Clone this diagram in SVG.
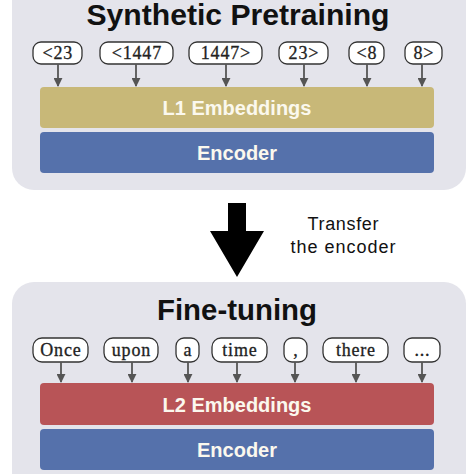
<svg xmlns="http://www.w3.org/2000/svg" width="474" height="474" viewBox="0 0 474 474">
<defs>
<style>
.panel{fill:#e4e4eb;}
.title{font-family:"Liberation Sans",Arial,sans-serif;font-weight:bold;font-size:29px;fill:#111;text-anchor:middle;}
.tok rect{fill:#fff;stroke:#333;stroke-width:1.3;}
.tok text{font-family:"Liberation Serif","Times New Roman",serif;font-size:18px;fill:#222;text-anchor:middle;stroke:#222;stroke-width:0.3;letter-spacing:0.8px;}
.bar text{font-family:"Liberation Sans",Arial,sans-serif;font-weight:bold;font-size:20px;fill:#fbf8ee;text-anchor:middle;}
.conn line{stroke:#555;stroke-width:1.8;marker-end:url(#ah);}
.note{font-family:"Liberation Sans",Arial,sans-serif;font-size:18px;fill:#111;text-anchor:middle;}
</style>
<marker id="ah" viewBox="0 0 10 10" refX="9" refY="5" markerWidth="5" markerHeight="5" orient="auto" markerUnits="strokeWidth">
<path d="M0,0 L10,5 L0,10 z" fill="#555"/>
</marker>
</defs>
<rect width="474" height="474" fill="#fff"/>

<g id="pretrain-panel">
<rect class="panel" x="12" y="-30" width="454" height="220" rx="22"/>
<text class="title" x="238" y="25" textLength="303" lengthAdjust="spacingAndGlyphs">Synthetic Pretraining</text>
</g>

<g id="t1" class="tok"><rect x="33" y="42" width="49" height="22" rx="8"/><text x="57.9" y="59">&lt;23</text></g>
<g id="t2" class="tok"><rect x="100" y="42" width="73" height="22" rx="8"/><text x="136.9" y="59">&lt;1447</text></g>
<g id="t3" class="tok"><rect x="189" y="42" width="73" height="22" rx="8"/><text x="225.9" y="59">1447&gt;</text></g>
<g id="t4" class="tok"><rect x="279" y="42" width="49" height="22" rx="8"/><text x="303.9" y="59">23&gt;</text></g>
<g id="t5" class="tok"><rect x="349" y="42" width="35" height="22" rx="8"/><text x="366.9" y="59">&lt;8</text></g>
<g id="t6" class="tok"><rect x="405" y="42" width="37" height="22" rx="8"/><text x="423.9" y="59">8&gt;</text></g>

<g id="l1-emb" class="bar"><rect x="40" y="87" width="394" height="41" rx="4" fill="#c8b878"/><text x="237" y="114.5">L1 Embeddings</text></g>
<g id="enc1" class="bar"><rect x="40" y="132" width="394" height="41" rx="4" fill="#5571ab"/><text x="237" y="159.5">Encoder</text></g>

<g id="transfer">
<path d="M228,203 L246,203 L246,231 L264,231 L237,277 L210,231 L228,231 z" fill="#000"/>
<text class="note" x="343" y="230" textLength="71">Transfer</text>
<text class="note" x="343" y="253" textLength="105">the encoder</text>
</g>

<g id="finetune-panel">
<rect class="panel" x="12" y="282" width="454" height="230" rx="22"/>
<text class="title" x="237" y="320" textLength="160" lengthAdjust="spacingAndGlyphs">Fine-tuning</text>
</g>

<g id="w1" class="tok"><rect x="33" y="338" width="55" height="24" rx="9"/><text x="60.9" y="356">Once</text></g>
<g id="w2" class="tok"><rect x="104" y="338" width="54" height="24" rx="9"/><text x="131.4" y="356">upon</text></g>
<g id="w3" class="tok"><rect x="176" y="338" width="23" height="24" rx="8"/><text x="187.9" y="356">a</text></g>
<g id="w4" class="tok"><rect x="212" y="338" width="55" height="24" rx="9"/><text x="239.9" y="356">time</text></g>
<g id="w5" class="tok"><rect x="284" y="338" width="23" height="24" rx="8"/><text x="295.9" y="356">,</text></g>
<g id="w6" class="tok"><rect x="323" y="338" width="65" height="24" rx="9"/><text x="355.9" y="356">there</text></g>
<g id="w7" class="tok"><rect x="404" y="338" width="36" height="24" rx="8"/><text x="422.4" y="356">...</text></g>

<g id="l2-emb" class="bar"><rect x="40" y="383" width="394" height="42" rx="4" fill="#b85457"/><text x="237" y="411.5">L2 Embeddings</text></g>
<g id="enc2" class="bar"><rect x="40" y="429" width="394" height="41" rx="4" fill="#5571ab"/><text x="237" y="456.5">Encoder</text></g>

<g id="connectors" class="conn">
<line x1="58" y1="64" x2="58" y2="86"/>
<line x1="136" y1="64" x2="136" y2="86"/>
<line x1="226" y1="64" x2="226" y2="86"/>
<line x1="304" y1="64" x2="304" y2="86"/>
<line x1="367" y1="64" x2="367" y2="86"/>
<line x1="422" y1="64" x2="422" y2="86"/>
<line x1="61" y1="362" x2="61" y2="382"/>
<line x1="132" y1="362" x2="132" y2="382"/>
<line x1="188" y1="362" x2="188" y2="382"/>
<line x1="237" y1="362" x2="237" y2="382"/>
<line x1="295" y1="362" x2="295" y2="382"/>
<line x1="356" y1="362" x2="356" y2="382"/>
<line x1="422" y1="362" x2="422" y2="382"/>
</g>
</svg>
